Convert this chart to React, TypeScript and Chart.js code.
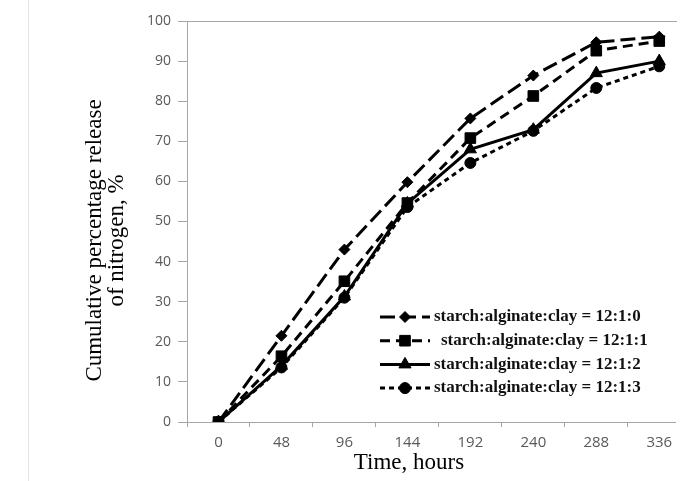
import React, { useEffect, useRef } from 'react';
import { Chart, registerables } from 'chart.js';
import { drawPoint } from 'chart.js/helpers';

Chart.register(...registerables);

// ---- data ----
const hours = [0, 48, 96, 144, 192, 240, 288, 336];
const hourLabels = ['0', '48', '96', '144', '192', '240', '288', '336'];

const seriesLabels = [
  'starch:alginate:clay = 12:1:0',
  'starch:alginate:clay = 12:1:1',
  'starch:alginate:clay = 12:1:2',
  'starch:alginate:clay = 12:1:3',
];
const ratio1210 = [0, 21.5, 43, 59.8, 75.7, 86.4, 94.7, 96.1];
const ratio1211 = [0, 16.4, 35.1, 54.6, 70.8, 81.3, 92.6, 95.0];
const ratio1212 = [0, 14.0, 31.3, 54.5, 68.0, 72.9, 87.0, 90.0];
const ratio1213 = [0, 13.6, 31.0, 53.6, 64.6, 72.6, 83.3, 88.7];

const seriesValues = [ratio1210, ratio1211, ratio1212, ratio1213];
const pointStyles = ['rectRot', 'rect', 'triangle', 'circle'];
const pointRadii = [5.5, 7.5, 7, 5.5];
const dashes: number[][] = [[15, 6], [10, 6], [], [5, 4]];

const axisGrey = '#a6a6a6';
const tickGrey = '#595959';

const titlesPlugin = {
  id: 'axisTitles',
  afterDraw(chart: any) {
    const { ctx, chartArea } = chart;
    const { left, top, right, bottom } = chartArea;
    ctx.save();
    // top border
    ctx.strokeStyle = axisGrey;
    ctx.lineWidth = 1;
    ctx.beginPath();
    ctx.moveTo(left, top + 0.5);
    ctx.lineTo(right + 2, top + 0.5);
    ctx.stroke();

    ctx.fillStyle = '#000';
    ctx.font = '23px "Liberation Serif", "Times New Roman", serif';
    ctx.textAlign = 'center';
    ctx.textBaseline = 'middle';
    ctx.fillText('Time, hours', left + 222, bottom + 41);

    ctx.font = '23px "Liberation Serif", "Times New Roman", serif';
    ctx.translate(left - 92, (top + bottom) / 2 + 19);
    ctx.rotate(-Math.PI / 2);
    ctx.fillText('Cumulative percentage release', 0, 0);
    ctx.fillText('of nitrogen, %', 0, 22);
    ctx.restore();
  },
};

const legendPlugin = {
  id: 'customLegend',
  afterDraw(chart: any) {
    const { ctx, chartArea } = chart;
    const x0 = chartArea.left + 193;
    const y0 = chartArea.bottom - 105;
    const step = 23.7;
    ctx.save();
    chart.data.datasets.forEach((ds: any, i: number) => {
      const y = y0 + i * step;
      ctx.strokeStyle = '#000';
      ctx.lineWidth = 3;
      ctx.setLineDash(ds.borderDash || []);
      ctx.beginPath();
      ctx.moveTo(x0, y);
      ctx.lineTo(x0 + 50, y);
      ctx.stroke();
      ctx.setLineDash([]);
      ctx.fillStyle = '#000';
      ctx.strokeStyle = '#000';
      ctx.lineWidth = 1;
      drawPoint(ctx, { pointStyle: ds.pointStyle, radius: ds.pointRadius, borderWidth: 1, rotation: 0 }, x0 + 25, y);
      ctx.fillStyle = '#111';
      ctx.font = 'bold 17px "Liberation Serif", "Times New Roman", serif';
      ctx.textAlign = 'left';
      ctx.textBaseline = 'middle';
      ctx.fillText(ds.label, x0 + 54 + (i === 1 ? 7 : 0), y);
    });
    ctx.restore();
  },
};

export default function App() {
  const canvasRef = useRef<HTMLCanvasElement | null>(null);

  useEffect(() => {
    if (!canvasRef.current) return;
    const datasets = seriesValues.map((vals, i) => ({
      label: seriesLabels[i],
      data: hours.map((h, j) => ({ x: h, y: vals[j] })),
      borderColor: '#000',
      backgroundColor: '#000',
      borderWidth: 3,
      borderDash: dashes[i],
      pointStyle: pointStyles[i],
      pointRadius: pointRadii[i],
      pointBackgroundColor: '#000',
      pointBorderColor: '#000',
      pointBorderWidth: 1,
      tension: 0,
      fill: false,
    }));

    const chart = new Chart(canvasRef.current, {
      type: 'line',
      data: { datasets },
      options: {
        responsive: false,
        animation: false,
        devicePixelRatio: 1,
        layout: { padding: { top: 21, right: 24, left: 0, bottom: 0 } },
        plugins: { legend: { display: false }, tooltip: { enabled: false } },
        scales: {
          x: {
            type: 'linear',
            min: -24,
            max: 348,
            afterBuildTicks: (s: any) => {
              s.ticks = hours.map((h) => ({ value: h - 24 }));
            },
            afterFit: (s: any) => {
              s.height = 59;
            },
            grid: {
              drawOnChartArea: false,
              drawTicks: true,
              tickLength: 5,
              color: axisGrey,
              tickColor: axisGrey,
            },
            border: { display: true, color: axisGrey, width: 1 },
            ticks: {
              callback: (_v: any, i: number) => hourLabels[i],
              labelOffset: 31.5,
              padding: 7,
              autoSkip: false,
              maxRotation: 0,
              minRotation: 0,
              color: tickGrey,
              font: { family: '"Open Sans", sans-serif', size: 15 },
            },
          },
          y: {
            min: 0,
            max: 100,
            afterFit: (s: any) => {
              s.width = 187;
            },
            grid: {
              drawOnChartArea: false,
              drawTicks: true,
              tickLength: 9,
              color: axisGrey,
              tickColor: axisGrey,
            },
            border: { display: true, color: axisGrey, width: 1 },
            ticks: {
              stepSize: 10,
              padding: 7,
              color: tickGrey,
              font: { family: '"Open Sans", sans-serif', size: 14 },
            },
          },
        },
      },
      plugins: [titlesPlugin, legendPlugin],
    } as any);

    return () => chart.destroy();
  }, []);

  return (
    <div style={{ position: 'absolute', left: 0, top: 0, width: 699, height: 481, background: '#fff' }}>
      <div style={{ position: 'absolute', left: 28, top: 0, width: 1, height: 481, background: '#e4e4e4' }} />
      <canvas ref={canvasRef} width={699} height={481} style={{ position: 'absolute', left: 0, top: 0, width: 699, height: 481 }} />
    </div>
  );
}
